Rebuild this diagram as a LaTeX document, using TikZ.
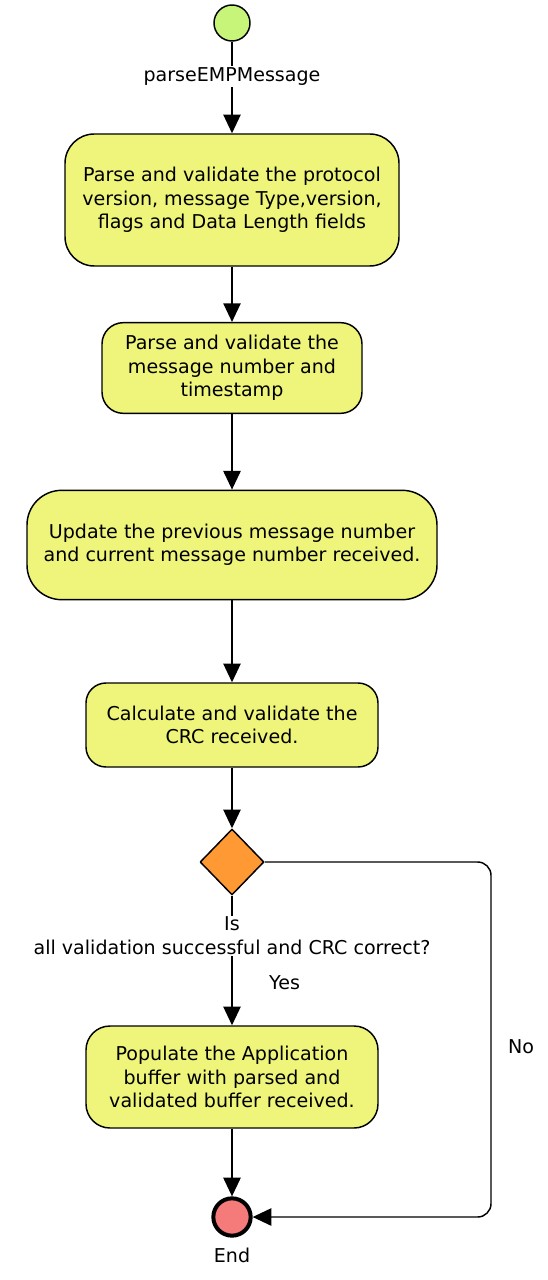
\documentclass[tikz,border=0pt]{standalone}
\usepackage{fontspec}
\setmainfont{DejaVu Sans}
\usetikzlibrary{arrows.meta, shapes.geometric, positioning}

\definecolor{actfill}{RGB}{238,245,122}
\definecolor{startfill}{RGB}{198,245,122}
\definecolor{decfill}{RGB}{255,153,51}
\definecolor{endfill}{RGB}{245,122,122}
\newcommand{\diagfont}{\fontsize{14.3}{17.6}\selectfont}

\begin{document}
\begin{tikzpicture}[x=0.75pt,y=-0.75pt,line join=round,
  every node/.style={font=\diagfont},
  act/.style={draw,line width=1.1pt,fill=actfill,align=center,inner sep=0pt},
  flow/.style={line width=1.1pt,-{Triangle[length=14pt,width=13pt]}},
  lbl/.style={fill=white,inner sep=1pt,align=center}]
\path[use as bounding box] (0,0) rectangle (547,1280);

\node[circle,draw,line width=1.1pt,fill=startfill,minimum size=27pt,inner sep=0pt]
  (start) at (232,23) {};
\node[act,rounded corners=22pt,minimum width=250.5pt,minimum height=99pt]
  (act1) at (232,200) {Parse and validate the protocol\\version, message Type,version,\\flags and Data Length fields};
\node[act,rounded corners=16pt,minimum width=195pt,minimum height=68pt]
  (act2) at (232,368) {Parse and validate the\\message number and\\timestamp};
\node[act,rounded corners=26pt,minimum width=307.5pt,minimum height=82pt]
  (act3) at (232,545) {Update the previous message number\\and current message number received.};
\node[act,rounded corners=15pt,minimum width=219pt,minimum height=63pt]
  (act4) at (232,725) {Calculate and validate the\\CRC received.};
\node[diamond,draw,line width=1.1pt,fill=decfill,minimum width=48pt,minimum height=49.5pt,inner sep=0pt]
  (dec) at (232,862) {};
\node[act,rounded corners=18pt,minimum width=219pt,minimum height=76.5pt]
  (act5) at (232,1077) {Populate the Application\\buffer with parsed and\\validated buffer received.};
\node[circle,draw,line width=3pt,fill=endfill,minimum size=28pt,inner sep=0pt,
  label={[yshift=-4pt]below:End}] (stop) at (232,1217) {};

\coordinate (nocorner1) at (491,862);
\coordinate (nocorner2) at (491,1217);

\draw[flow] (start) -- node[lbl,pos=0.38] {parseEMPMessage} (act1);
\draw[flow] (act1) -- (act2);
\draw[flow] (act2) -- (act3);
\draw[flow] (act3) -- (act4);
\draw[flow] (act4) -- (dec);
\draw[flow] (dec) -- node[lbl,pos=0.31] {Is\\all validation successful and CRC correct?}
  node[pos=0.67,right=24pt] {Yes} (act5);
\draw[flow] (act5) -- (stop);
\draw[flow,rounded corners=10pt] (dec.east) -- (nocorner1)
  -- node[pos=0.52,right=9pt] {No} (nocorner2) -- (stop);
\end{tikzpicture}
\end{document}
